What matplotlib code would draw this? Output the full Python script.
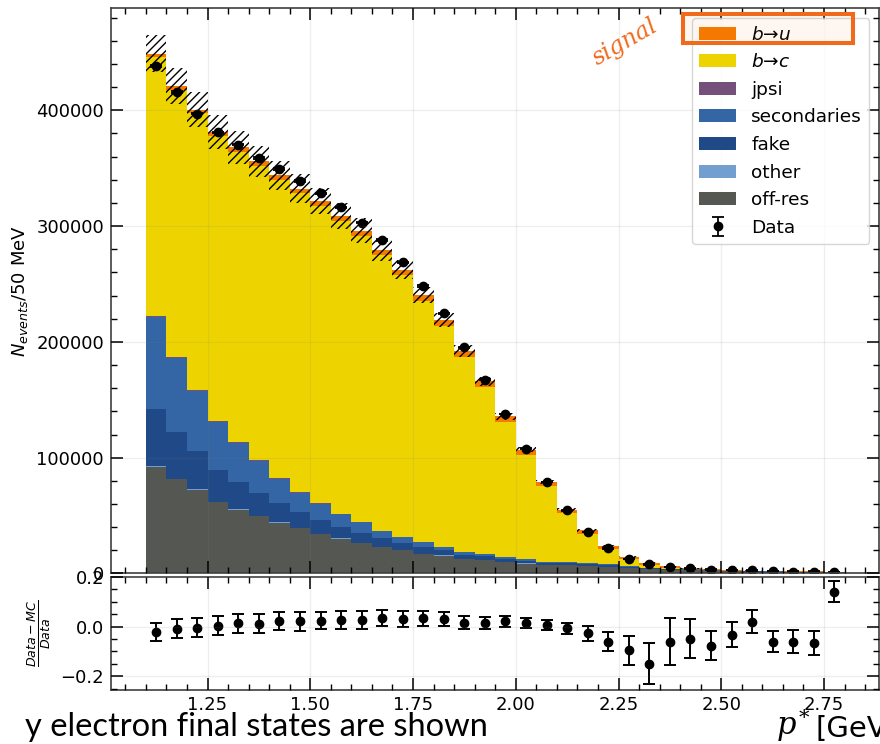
import numpy as np
import matplotlib
matplotlib.use("Agg")
import matplotlib.pyplot as plt
from matplotlib.ticker import MultipleLocator
from matplotlib.patches import Rectangle

# binning: 50 MeV bins in p* from 1.10 to 2.80 GeV
bin_lo, bin_hi, bin_w = 1.10, 2.80, 0.05
edges = np.round(np.arange(bin_lo, bin_hi + bin_w / 2, bin_w), 3)
centers = 0.5 * (edges[1:] + edges[:-1])

# MC components (events / bin)
off_res = [92200, 81600, 72400, 61800, 55200, 49300, 44000, 39000, 34200, 30200,
           26500, 23000, 20000, 17100, 15500, 12600, 11500, 9800, 8600, 7500,
           6900, 6300, 5800, 4600, 3700, 2900, 2600, 2100, 1800, 1550,
           1300, 1100, 1100, 700]
other = [400, 350, 300, 280, 250, 230, 200, 180, 160, 140,
         120, 110, 100, 90, 80, 70, 60, 50, 45, 40,
         35, 30, 25, 20, 15, 12, 10, 8, 6, 5,
         4, 3, 3, 2]
fake = [49800, 39800, 32700, 27500, 23200, 20100, 16300, 13600, 12200, 10200,
        8700, 7100, 6400, 5500, 4500, 3700, 3300, 2800, 2300, 1700,
        1700, 1500, 1400, 1200, 800, 600, 500, 400, 300, 300,
        200, 200, 200, 100]
secondaries = [79400, 64200, 52600, 41200, 34100, 27500, 21300, 16900, 13700, 10600,
               8900, 6300, 4900, 4100, 2900, 2300, 2100, 1500, 1200, 1000,
               900, 800, 700, 600, 550, 500, 450, 400, 350, 300,
               250, 200, 200, 150]
jpsi = [800, 700, 650, 600, 550, 500, 450, 400, 350, 300,
        280, 250, 220, 200, 180, 160, 140, 120, 100, 90,
        80, 70, 60, 50, 40, 30, 25, 20, 15, 10,
        10, 5, 5, 5]
b_to_c = [223300, 231200, 238600, 246500, 251000, 254500, 257600, 258100, 256800, 253200,
          247000, 238000, 226000, 208700, 190900, 168300, 143700, 116400, 90300, 64800,
          42400, 25700, 13300, 5800, 2300, 800, 150, 120, 80, 75,
          100, 110, 150, 160]
b_to_u = [3000, 3200, 3300, 3400, 3600, 3700, 3900, 4000, 4200, 4300,
          4500, 4600, 4700, 4800, 4900, 5000, 5000, 5000, 4400, 3600,
          3200, 2900, 2500, 2000, 1800, 1300, 800, 600, 450, 300,
          250, 180, 150, 80]
mc_err = [16200, 15600, 15200, 14500, 14000, 13500, 12700, 12600, 11300, 11100,
          10700, 9200, 8400, 7200, 5900, 5000, 3800, 3000, 2000, 1600,
          1300, 1150, 950, 820, 750, 590, 380, 230, 170, 120,
          90, 80, 85, 50]

data = [438200, 415800, 397100, 381000, 370400, 358900, 349400, 338800, 328200, 316100,
        302900, 287900, 268600, 248300, 224700, 195400, 167200, 137700, 107800, 79000,
        54600, 36000, 21600, 12700, 7800, 5800, 4300, 3400, 2900, 2600,
        2000, 1700, 1700, 1400]

# (Data - MC) / Data panel
ratio = [-0.020, -0.008, -0.005, 0.004, 0.013, 0.012, 0.022, 0.022, 0.024, 0.025,
         0.027, 0.035, 0.030, 0.033, 0.030, 0.015, 0.015, 0.021, 0.015, 0.007,
         -0.007, -0.027, -0.060, -0.095, -0.149, -0.060, -0.048, -0.076, -0.032, 0.020,
         -0.060, -0.060, -0.065, 0.140]
ratio_err = [0.036, 0.037, 0.038, 0.038, 0.038, 0.038, 0.037, 0.038, 0.035, 0.036,
             0.036, 0.033, 0.032, 0.030, 0.027, 0.026, 0.023, 0.022, 0.019, 0.020,
             0.023, 0.031, 0.040, 0.058, 0.082, 0.093, 0.077, 0.057, 0.050, 0.046,
             0.044, 0.046, 0.048, 0.042]

stack = [off_res, other, fake, secondaries, jpsi, b_to_c, b_to_u]
labels = ["off-res", "other", "fake", "secondaries", "jpsi", "$b$→$c$", "$b$→$u$"]
colors = ["#555753", "#729fcf", "#204a87", "#3465a4", "#75507b", "#edd400", "#f57900"]

mc = np.sum(np.array(stack, dtype=float), axis=0)
mc_err = np.array(mc_err, dtype=float)
data = np.array(data, dtype=float)

fig = plt.figure(figsize=(8.8, 7.44), dpi=100)
ax = fig.add_axes([0.1261, 0.2292, 0.8733, 0.7601])
rax = fig.add_axes([0.1261, 0.0726, 0.8733, 0.1519], sharex=ax)

_, _, patches = ax.hist([centers] * len(stack), bins=edges, weights=stack, stacked=True,
                        histtype="stepfilled", color=colors, label=labels)
ax.bar(centers, 2 * mc_err, bottom=mc - mc_err, width=bin_w, fill=False,
       hatch="////", edgecolor="k", linewidth=0)
eb = ax.errorbar(centers, data, yerr=np.sqrt(data), fmt="o", color="k", ms=6,
                 capsize=4, elinewidth=1.3, capthick=1.3, label="Data")

rax.errorbar(centers, ratio, yerr=ratio_err, fmt="o", color="k", ms=6,
             capsize=4, elinewidth=1.4, capthick=1.4)
rax.set_ylim(-0.255, 0.2)

for a in (ax, rax):
    a.set_axisbelow(False)
    a.grid(True, which="major", color="0.5", alpha=0.13, lw=1.0)
    a.tick_params(which="both", direction="in", top=True, right=True, labelsize=13)
    a.tick_params(which="major", length=8.5, width=1.1, pad=5)
    a.tick_params(which="minor", length=4.3, width=1.0)
    a.xaxis.set_major_locator(MultipleLocator(0.25))
    a.xaxis.set_minor_locator(MultipleLocator(0.05))
    for s in a.spines.values():
        s.set_linewidth(1.2)
        s.set_color("0.25")

ax.yaxis.set_major_locator(MultipleLocator(100000))
ax.yaxis.set_minor_locator(MultipleLocator(20000))
rax.yaxis.set_major_locator(MultipleLocator(0.2))
rax.yaxis.set_minor_locator(MultipleLocator(0.05))
ax.tick_params(labelbottom=False)
rax.tick_params(axis="x", pad=4)

ax.set_ylabel(r"$N_{events}$/50 MeV", fontsize=13)
rax.set_ylabel(r"$\frac{Data-MC}{Data}$", fontsize=13)
ax.yaxis.set_label_coords(-0.105, 0.5)
rax.yaxis.set_label_coords(-0.075, 0.5)

handles = [p[0] for p in patches][::-1] + [eb]
ax.legend(handles, labels[::-1] + ["Data"], loc="upper right", fontsize=13.3,
          labelspacing=0.52, borderaxespad=0.55)

# slide annotations
fig.add_artist(Rectangle((683 / 880, 1 - 43 / 744), 170 / 880, 29 / 744,
                         transform=fig.transFigure, facecolor=(0.96, 0.47, 0.1, 0.06),
                         edgecolor="#f06a1c", lw=2.9))
fig.text(625 / 880, 1 - 42 / 744, "signal", rotation=30, color="#f06a1c", fontsize=17,
         family="DejaVu Serif", style="italic", ha="center", va="center")

fig.text(488 / 880, 1 - 736 / 744, "y electron final states are shown", ha="right",
         va="baseline", fontsize=23.5, family="Lato")
fig.text(777 / 880, 1 - 734 / 744, "p", family="DejaVu Serif", style="italic",
         fontsize=22, va="baseline")
fig.text(799 / 880, 1 - 724 / 744, "*", family="DejaVu Serif", fontsize=15, va="baseline")
fig.text(815 / 880, 1 - 737 / 744, "[GeV]", family="DejaVu Sans", fontsize=21, va="baseline")

fig.savefig("out.png", dpi=100)
